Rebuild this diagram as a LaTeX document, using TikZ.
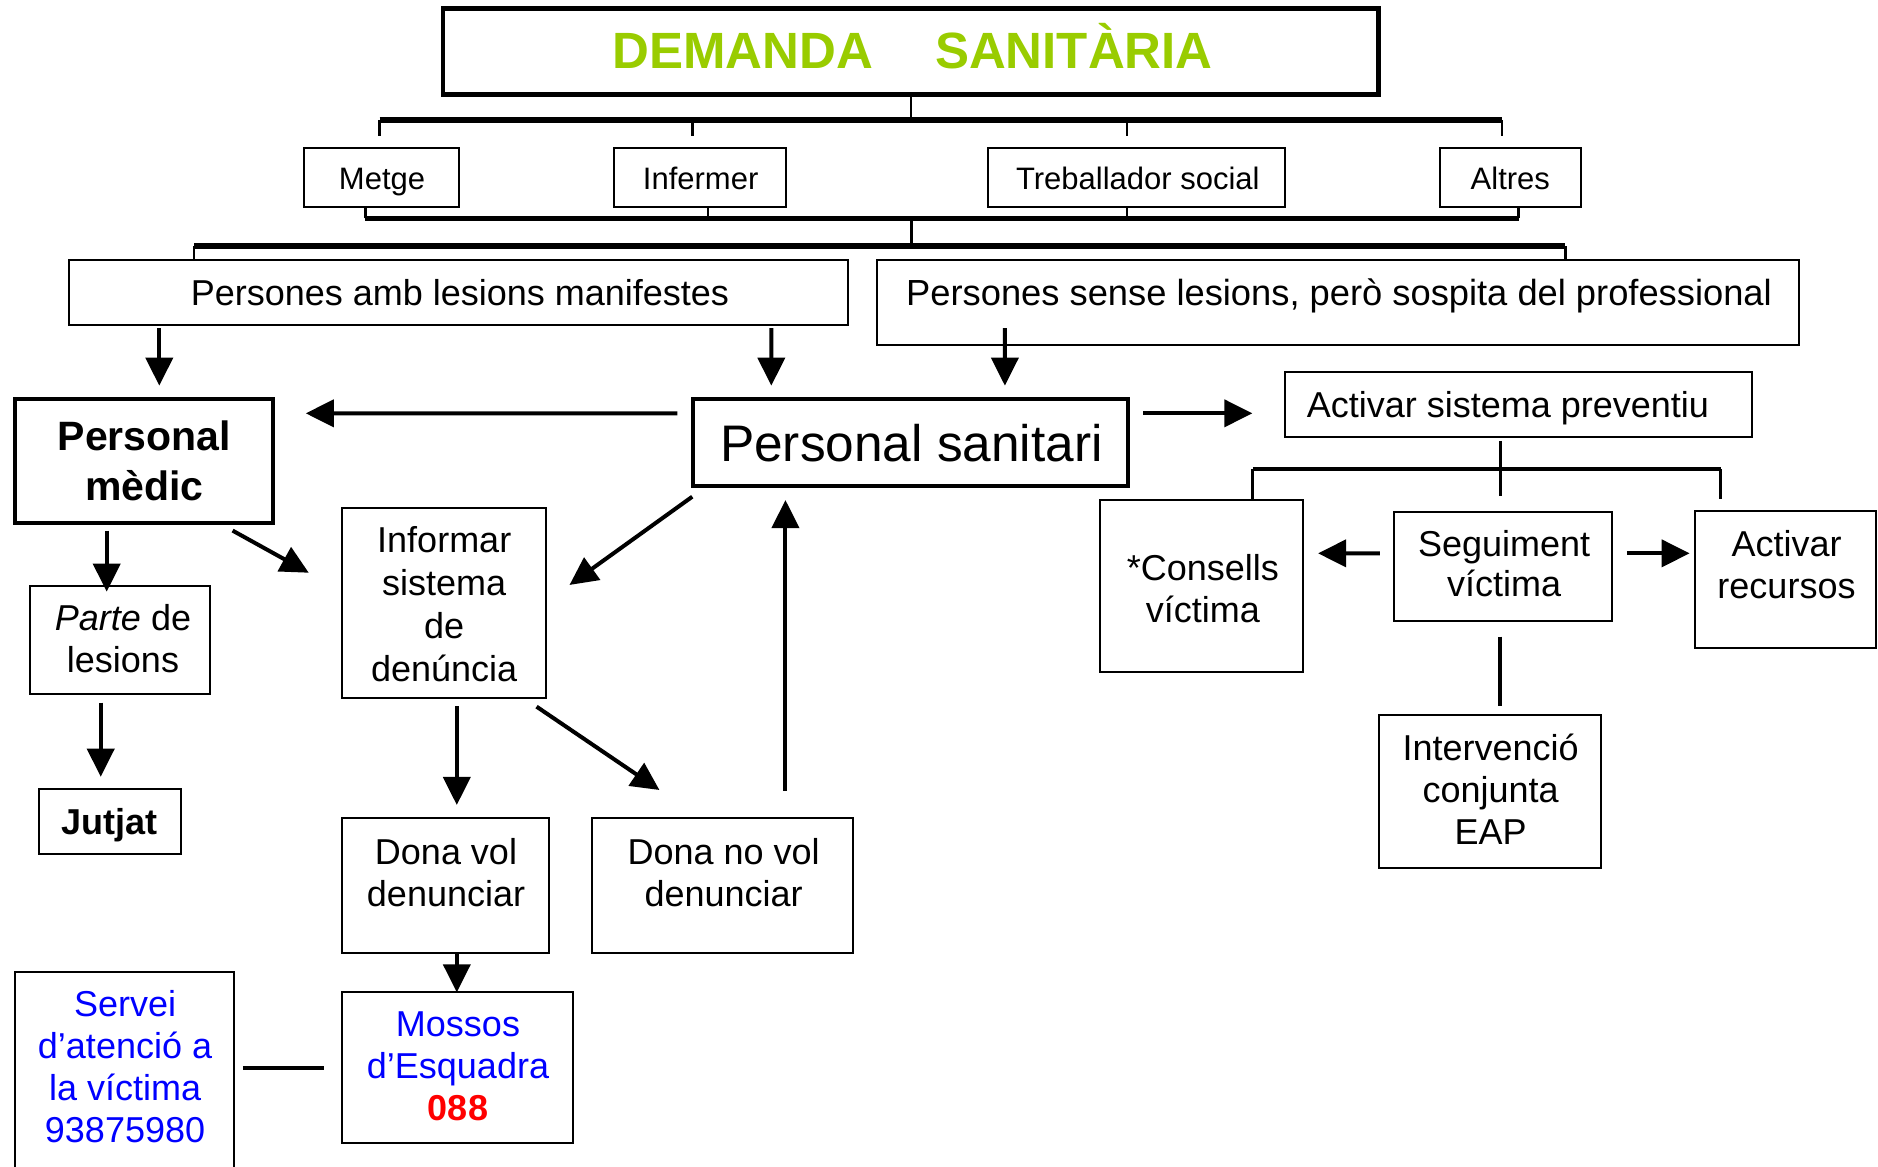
\documentclass[tikz,border=0pt]{standalone}
\usepackage{fontspec}
\setmainfont{Liberation Sans}
\usetikzlibrary{arrows.meta,fit,calc}
\definecolor{titlegreen}{HTML}{99CC00}
\definecolor{svcblue}{HTML}{0000FF}
\definecolor{numred}{HTML}{FF0000}
\newcommand{\ml}[1]{\begin{tabular}[b]{@{}c@{}}#1\end{tabular}}
\begin{document}
\begin{tikzpicture}[x=1.1977pt,y=-1.1977pt,
  box/.style={draw, line width=2pt, inner sep=0pt, outer sep=0pt},
  thickbox/.style={draw, line width=4.5pt, inner sep=0pt, outer sep=0pt},
  lbl/.style={anchor=base, inner sep=0pt, font=\fontsize{36}{42}\selectfont},
  smalllbl/.style={anchor=base, inner sep=0pt, font=\fontsize{31}{37}\selectfont},
  arr/.style={line width=4pt, -{Triangle[length=28pt,width=27pt]}},
  conn/.style={line width=2.5pt},
  bar/.style={line width=5.5pt},
]
\useasboundingbox (0,0) rectangle (1568,974);

% ---------- boxes ----------
\node[thickbox, fit={(370,7)(1151,79)}] (title) {};
\node[box, fit={(254,123.8)(383,172.6)}] (metge) {};
\node[box, fit={(513,123.8)(656,172.6)}] (inferm) {};
\node[box, fit={(825,123.8)(1073,172.6)}] (treb) {};
\node[box, fit={(1202,123.8)(1320,172.6)}] (altres) {};
\node[box, fit={(58,217)(708,271.4)}] (amb) {};
\node[box, fit={(732,217)(1502,288)}] (sense) {};
\node[thickbox, line width=4pt, fit={(12.5,333.4)(227.8,437)}] (medic) {};
\node[thickbox, line width=4pt, fit={(578.2,333.4)(942,405.8)}] (sanit) {};
\node[box, fit={(1073,310.9)(1463.1,365.1)}] (activ) {};
\node[box, fit={(918.7,417.5)(1088,561.3)}] (consells) {};
\node[box, fit={(1163.5,427.2)(1345.8,518.5)}] (segui) {};
\node[box, fit={(1415.3,426.4)(1566.5,541.3)}] (recursos) {};
\node[box, fit={(1151,597)(1336.7,724.4)}] (interv) {};
\node[box, fit={(25,489)(175.2,579.7)}] (parte) {};
\node[box, fit={(32.5,658.8)(151.2,713.3)}] (jutjat) {};
\node[box, fit={(285.8,423.9)(455.5,582.5)}] (informar) {};
\node[box, fit={(285.8,683.3)(458.5,795.4)}] (donavol) {};
\node[box, fit={(494,683.3)(712.3,795.4)}] (donano) {};
\node[box, fit={(285.8,828)(478.5,954.6)}] (mossos) {};
\node[box, fit={(12.5,811.8)(195.2,976)}] (servei) {};

% ---------- texts ----------
\node[anchor=base, inner sep=0pt, font=\fontsize{51}{60}\selectfont\bfseries, text=titlegreen] (title-t) at (762,57) {DEMANDA\hspace{62pt}SANITÀRIA};
\node[smalllbl] (metge-t) at (319,158.6) {Metge};
\node[smalllbl] (inferm-t) at (585,158.6) {Infermer};
\node[smalllbl] (treb-t) at (950,158.6) {Treballador social};
\node[smalllbl] (altres-t) at (1261,158.6) {Altres};
\node[lbl] (amb-t) at (384,255) {Persones amb lesions manifestes};
\node[lbl, font=\fontsize{36.3}{42}\selectfont] (sense-t) at (1118,255) {Persones sense lesions, però sospita del professional};
\node[anchor=base, inner sep=0pt, font=\fontsize{41}{49.3}\selectfont\bfseries] (medic-t) at (120.5,417.5) {\ml{Personal\\mèdic}};
\node[anchor=base, inner sep=0pt, font=\fontsize{51.4}{60}\selectfont] (sanit-t) at (761,385.5) {Personal sanitari};
\node[lbl] (activ-t) at (1259,349) {Activar sistema preventiu};
\node[lbl] (consells-t) at (1004.3,520) {\ml{*Consells\\víctima}};
\node[lbl, font=\fontsize{36}{40}\selectfont] (segui-t) at (1255.9,498) {\ml{Seguiment\\víctima}};
\node[lbl] (recursos-t) at (1491.6,499.5) {\ml{Activar\\recursos}};
\node[lbl] (interv-t) at (1244.6,705.5) {\ml{Intervenció\\conjunta\\EAP}};
\node[lbl] (parte-t) at (102.7,561.5) {\ml{\textit{Parte} de\\lesions}};
\node[lbl, font=\fontsize{36}{42}\selectfont\bfseries] (jutjat-t) at (91.8,696.5) {Jutjat};
\node[lbl, font=\fontsize{36}{43}\selectfont] (informar-t) at (370.9,569) {\ml{Informar\\sistema\\de\\denúncia}};
\node[lbl] (donavol-t) at (372.4,756.5) {\ml{Dona vol\\denunciar}};
\node[lbl] (donano-t) at (604.2,756.5) {\ml{Dona no vol\\denunciar}};
\node[lbl, text=svcblue] (mossos-t) at (382.4,935.5) {\ml{Mossos\\d’Esquadra\\{\color{numred}\bfseries 088}}};
\node[lbl, text=svcblue] (servei-t) at (104.4,954) {\ml{Servei\\d’atenció a\\la víctima\\93875980}};

% ---------- tree connectors ----------
\coordinate (b1l) at (317,100.2);
\coordinate (b1r) at (1254,100.2);
\coordinate (b1i) at (578,100.2);
\coordinate (b1t) at (941,100.2);
\draw[conn] (title.south) -- (title.south |- b1l);
\draw[bar] (b1l) -- (b1r);
\draw[conn, shorten >=12pt] (b1l) -- (b1l |- metge.north);
\draw[conn, shorten >=12pt] (b1i) -- (b1i |- inferm.north);
\draw[conn, shorten >=12pt] (b1t) -- (b1t |- treb.north);
\draw[conn, shorten >=12pt] (b1r) -- (b1r |- altres.north);

\coordinate (b2l) at (305,182.3);
\coordinate (b2r) at (1268,182.3);
\coordinate (b2i) at (591,182.3);
\coordinate (b2t) at (941,182.3);
\coordinate (b2c) at (761,182.3);
\draw[bar] (b2l) -- (b2r);
\draw[conn] (b2l) -- (b2l |- metge.south);
\draw[conn] (b2i) -- (b2i |- inferm.south);
\draw[conn] (b2t) -- (b2t |- treb.south);
\draw[conn] (b2r) -- (b2r |- altres.south);

\coordinate (b3l) at (162,205.4);
\coordinate (b3r) at (1307,205.4);
\draw[conn] (b2c) -- (b2c |- b3l);
\draw[bar] (b3l) -- (b3r);
\draw[conn] (b3l) -- (b3l |- amb.north);
\draw[conn] (b3r) -- (b3r |- sense.north);

% ---------- arrows ----------
\draw[arr] ($(amb.south west)+(75,2.6)$) -- ($(medic.north west)+(120.5,-11.4)$);
\draw[arr] ($(amb.south west)+(586,2.6)$) -- ($(sanit.north west)+(65.8,-11.4)$);
\draw[arr] ($(sense.south west)+(107,-14)$) -- ($(sanit.north west)+(260.8,-11.4)$);
\draw[arr] ($(sanit.north west)+(-12.6,11.7)$) -- ($(medic.north east)+(27.5,11.7)$);
\draw[arr] ($(sanit.north east)+(12.7,11.7)$) -- ($(activ.west)+(-27.4,7.1)$);

\draw[conn, line width=3pt] ($(activ.south west)+(179.4,3)$) -- ($(segui.north west)+(88.9,-13.1)$);
\coordinate (b4l) at (1046.1,391.6);
\coordinate (b4r) at (1436.7,391.6);
\draw[line width=3.7pt] (b4l) -- (b4r);
\draw[line width=3pt] (b4l) -- (b4l |- consells.north);
\draw[line width=3pt, shorten >=12pt] (b4r) -- (b4r |- recursos.north);
\draw[arr] ($(segui.west)+(-11.5,-10.85)$) -- ($(consells.east)+(12.5,-27.4)$);
\draw[arr] ($(segui.east)+(12.5,-10.85)$) -- ($(recursos.west)+(-4.6,-21.85)$);
\draw[line width=4pt] ($(segui.south)+(-2.25,13.1)$) -- ($(interv.north)+(8.55,-7.8)$);

\draw[arr] ($(medic.south west)+(76.6,6)$) -- ($(parte.north west)+(64.1,5)$);
\draw[arr] ($(parte.south west)+(59.1,7)$) -- ($(jutjat.north west)+(51.6,-10.3)$);
\draw[arr] ($(medic.south east)+(-33.6,6)$) -- ($(informar.north west)+(-28,54.3)$);
\draw[arr] ($(sanit.south west)+(-0.2,8.9)$) -- ($(informar.north east)+(20,64.5)$);
\draw[arr] ($(informar.south)+(10.75,7)$) -- ($(donavol.north)+(9.25,-11.2)$);
\draw[arr] ($(informar.south east)+(-7.5,7.5)$) -- ($(donano.north west)+(56.6,-23.7)$);
\draw[arr] ($(donano.north west)+(161.8,-23.1)$) -- ($(sanit.south west)+(77.6,11.7)$);
\draw[arr] ($(donavol.south)+(9.25,0)$) -- ($(mossos.north)+(-0.75,0.5)$);
\draw[line width=4pt] ($(servei.north east)+(7.5,79.6)$) -- ($(mossos.west)+(-15.5,0.1)$);
\end{tikzpicture}
\end{document}
